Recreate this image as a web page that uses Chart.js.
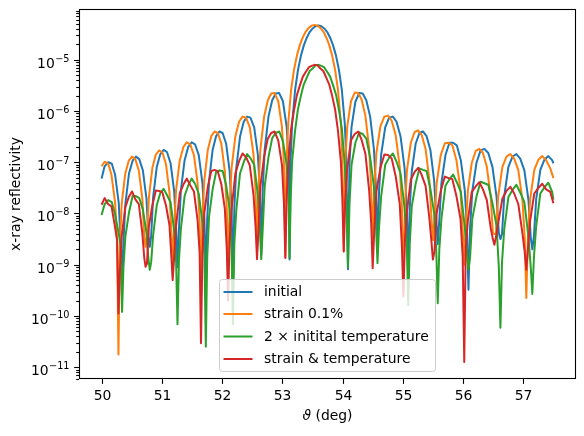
<!DOCTYPE html>
<html>
<head>
<meta charset="utf-8">
<script src="https://cdn.jsdelivr.net/npm/chart.js@4.4.0/dist/chart.umd.min.js"></script>
<style>
  html, body { margin: 0; padding: 0; background: #fff; }
</style>
</head>
<body>
<canvas id="chart" width="584" height="436"></canvas>
<script>
// angles (deg) for "initial" and "2 x temperature" (same fringe positions)
var thetaA = [
  50.00, 50.05, 50.11, 50.17, 50.225, 50.285, 50.315, 50.34,
  50.363, 50.395, 50.455, 50.515, 50.57, 50.625, 50.685, 50.745, 50.777, 50.80,
  50.823, 50.855, 50.915, 50.975, 51.03, 51.085, 51.145, 51.205, 51.237, 51.26,
  51.284, 51.316, 51.378, 51.439, 51.495, 51.551, 51.613, 51.674, 51.707, 51.73,
  51.753, 51.784, 51.843, 51.901, 51.955, 52.009, 52.068, 52.126, 52.158, 52.18,
  52.204, 52.236, 52.298, 52.359, 52.415, 52.471, 52.533, 52.594, 52.627, 52.65,
  52.674, 52.708, 52.77, 52.832, 52.89, 52.948, 53.01, 53.072, 53.106, 53.12,
  53.139, 53.163, 53.212, 53.26, 53.309, 53.357, 53.406, 53.454, 53.503, 53.551, 53.60,
  53.649, 53.697, 53.746, 53.794, 53.843, 53.891, 53.94, 53.988, 54.037, 54.061, 54.09,
  54.115, 54.149, 54.213, 54.276, 54.335, 54.394, 54.458, 54.521, 54.556, 54.58,
  54.606, 54.641, 54.708, 54.774, 54.835, 54.896, 54.963, 55.029, 55.065, 55.09,
  55.115, 55.149, 55.213, 55.276, 55.335, 55.394, 55.458, 55.521, 55.556, 55.58,
  55.606, 55.641, 55.708, 55.774, 55.835, 55.896, 55.963, 56.029, 56.065, 56.09,
  56.117, 56.154, 56.223, 56.291, 56.355, 56.419, 56.488, 56.556, 56.594, 56.62,
  56.647, 56.684, 56.753, 56.821, 56.885, 56.949, 57.018, 57.086, 57.124, 57.15,
  57.177, 57.214, 57.283, 57.351, 57.415, 57.479, 57.50
];

// angles (deg) for "strain 0.1%" and "strain & temperature"
var thetaB = [
  50.00, 50.05, 50.11, 50.165, 50.225, 50.257, 50.28,
  50.303, 50.334, 50.393, 50.451, 50.505, 50.559, 50.618, 50.676, 50.708, 50.73,
  50.753, 50.784, 50.843, 50.901, 50.955, 51.009, 51.068, 51.126, 51.158, 51.18,
  51.204, 51.236, 51.298, 51.359, 51.415, 51.471, 51.533, 51.594, 51.627, 51.65,
  51.673, 51.704, 51.763, 51.821, 51.875, 51.929, 51.988, 52.046, 52.078, 52.10,
  52.124, 52.158, 52.22, 52.282, 52.34, 52.398, 52.46, 52.522, 52.556, 52.58,
  52.604, 52.636, 52.698, 52.759, 52.815, 52.871, 52.933, 52.994, 53.027, 53.05,
  53.074, 53.098, 53.147, 53.195, 53.244, 53.292, 53.341, 53.389, 53.438, 53.486, 53.535,
  53.584, 53.632, 53.681, 53.729, 53.778, 53.826, 53.875, 53.923, 53.972, 53.996, 54.02,
  54.044, 54.078, 54.14, 54.202, 54.26, 54.318, 54.38, 54.442, 54.476, 54.50,
  54.526, 54.561, 54.628, 54.694, 54.755, 54.816, 54.883, 54.949, 54.985, 55.01,
  55.035, 55.069, 55.133, 55.196, 55.255, 55.314, 55.378, 55.441, 55.476, 55.50,
  55.526, 55.562, 55.63, 55.698, 55.76, 55.822, 55.89, 55.958, 55.994, 56.02,
  56.045, 56.08, 56.145, 56.21, 56.27, 56.33, 56.395, 56.46, 56.495, 56.52,
  56.547, 56.584, 56.653, 56.721, 56.785, 56.849, 56.918, 56.986, 57.024, 57.05,
  57.077, 57.114, 57.183, 57.251, 57.315, 57.379, 57.448, 57.50
];

// log10 of reflectivity
var logInitial = [
  -7.32, -7.08, -7.00, -7.03, -7.25, -7.80, -8.50, -9.20,
  -8.56, -7.81, -7.22, -6.97, -6.89, -6.94, -7.16, -7.71, -8.44, -8.65,
  -8.44, -7.69, -7.10, -6.84, -6.76, -6.80, -7.02, -7.57, -8.30, -9.05,
  -8.31, -7.55, -6.96, -6.70, -6.61, -6.65, -6.86, -7.41, -8.13, -9.30,
  -8.12, -7.37, -6.76, -6.49, -6.40, -6.43, -6.64, -7.18, -7.90, -9.40,
  -7.88, -7.11, -6.50, -6.21, -6.11, -6.13, -6.32, -6.85, -7.56, -8.80,
  -7.53, -6.75, -6.11, -5.79, -5.66, -5.65, -5.81, -6.31, -7.01, -8.90,
  -6.90, -6.25, -5.59, -5.20, -4.92, -4.72, -4.57, -4.46, -4.39, -4.345, -4.33,
  -4.345, -4.39, -4.46, -4.57, -4.72, -4.92, -5.20, -5.59, -6.25, -6.90, -9.09,
  -7.01, -6.31, -5.82, -5.65, -5.66, -5.79, -6.11, -6.75, -7.53, -8.60,
  -7.56, -6.85, -6.32, -6.13, -6.11, -6.21, -6.50, -7.11, -7.88, -9.00,
  -7.90, -7.18, -6.64, -6.43, -6.40, -6.49, -6.76, -7.37, -8.12, -8.60,
  -8.13, -7.41, -6.86, -6.62, -6.62, -6.67, -6.96, -7.55, -8.31, -9.49,
  -8.27, -7.56, -7.01, -6.77, -6.74, -6.82, -7.09, -7.67, -8.38, -8.50,
  -8.40, -7.66, -7.09, -6.89, -6.84, -6.93, -7.16, -7.74, -8.47, -8.70,
  -8.44, -7.72, -7.15, -6.95, -6.88, -6.96, -7.02
];

var logStrain = [
  -7.08, -6.99, -7.03, -7.25, -7.80, -8.52, -10.75,
  -8.56, -7.81, -7.22, -6.97, -6.89, -6.94, -7.16, -7.71, -8.44, -8.65,
  -8.45, -7.70, -7.11, -6.85, -6.77, -6.81, -7.03, -7.58, -8.31, -9.00,
  -8.31, -7.55, -6.96, -6.70, -6.61, -6.65, -6.86, -7.41, -8.13, -9.60,
  -8.12, -7.37, -6.76, -6.49, -6.40, -6.43, -6.64, -7.18, -7.90, -9.20,
  -7.88, -7.11, -6.50, -6.21, -6.11, -6.13, -6.32, -6.85, -7.56, -8.70,
  -7.53, -6.75, -6.11, -5.79, -5.66, -5.65, -5.81, -6.31, -7.01, -8.85,
  -6.89, -6.24, -5.58, -5.19, -4.91, -4.71, -4.56, -4.45, -4.38, -4.334, -4.32,
  -4.334, -4.38, -4.45, -4.56, -4.71, -4.91, -5.19, -5.58, -6.24, -6.89, -8.74,
  -7.00, -6.30, -5.81, -5.64, -5.65, -5.78, -6.10, -6.74, -7.52, -8.50,
  -7.54, -6.83, -6.30, -6.11, -6.09, -6.19, -6.48, -7.09, -7.86, -9.50,
  -7.88, -7.16, -6.62, -6.41, -6.38, -6.47, -6.74, -7.35, -8.10, -8.52,
  -8.13, -7.41, -6.86, -6.63, -6.62, -6.67, -6.96, -7.55, -8.31, -9.00,
  -8.27, -7.56, -7.01, -6.78, -6.74, -6.82, -7.09, -7.67, -8.38, -8.40,
  -8.40, -7.66, -7.09, -6.89, -6.84, -6.93, -7.16, -7.74, -8.47, -9.65,
  -8.44, -7.72, -7.15, -6.95, -6.88, -6.96, -7.12, -7.31
];

var logTemperature = [
  -8.03, -7.82, -7.74, -7.78, -8.02, -8.40, -8.60, -9.92,
  -9.05, -8.45, -7.98, -7.66, -7.66, -7.70, -7.92, -8.38, -8.88, -9.10,
  -8.95, -8.43, -7.84, -7.60, -7.52, -7.64, -7.78, -8.34, -8.95, -10.16,
  -8.92, -8.30, -7.66, -7.45, -7.32, -7.42, -7.62, -8.18, -8.82, -10.60,
  -8.88, -8.06, -7.53, -7.19, -7.16, -7.17, -7.45, -7.92, -8.73, -10.16,
  -8.58, -7.94, -7.22, -7.00, -6.84, -6.92, -7.05, -7.63, -8.26, -8.89,
  -8.33, -7.46, -6.90, -6.53, -6.43, -6.40, -6.59, -7.04, -7.80, -8.87,
  -7.70, -6.98, -6.38, -5.96, -5.70, -5.48, -5.35, -5.22, -5.17, -5.11, -5.10,
  -5.12, -5.15, -5.24, -5.33, -5.50, -5.68, -5.98, -6.34, -7.05, -7.64, -9.05,
  -7.82, -7.05, -6.62, -6.42, -6.45, -6.54, -6.91, -7.48, -8.28, -8.97,
  -8.26, -7.66, -7.05, -6.91, -6.83, -6.99, -7.22, -7.89, -8.55, -9.79,
  -8.60, -7.86, -7.42, -7.12, -7.15, -7.17, -7.52, -8.00, -8.75, -9.75,
  -8.70, -8.10, -7.46, -7.33, -7.24, -7.39, -7.58, -8.26, -8.80, -9.10,
  -8.85, -8.10, -7.67, -7.38, -7.41, -7.44, -7.80, -8.24, -9.05, -10.23,
  -8.95, -8.30, -7.68, -7.54, -7.44, -7.59, -7.78, -8.46, -9.05, -9.57,
  -8.85, -8.25, -7.61, -7.49, -7.40, -7.58, -7.73
];

var logStrainTemp = [
  -7.83, -7.70, -7.82, -7.86, -8.28, -8.52, -9.95,
  -9.15, -8.44, -7.88, -7.68, -7.57, -7.72, -7.82, -8.38, -8.86, -9.04,
  -8.98, -8.26, -7.84, -7.55, -7.56, -7.59, -7.84, -8.22, -8.84, -9.30,
  -8.86, -8.24, -7.61, -7.43, -7.32, -7.45, -7.57, -8.14, -8.76, -10.53,
  -8.84, -8.01, -7.48, -7.17, -7.15, -7.18, -7.43, -7.91, -8.69, -9.70,
  -8.56, -7.92, -7.22, -6.98, -6.83, -6.90, -7.06, -7.64, -8.26, -8.89,
  -8.34, -7.47, -6.89, -6.54, -6.43, -6.40, -6.58, -7.05, -7.80, -8.87,
  -7.64, -7.05, -6.34, -5.98, -5.68, -5.50, -5.33, -5.24, -5.15, -5.12, -5.10,
  -5.11, -5.17, -5.22, -5.35, -5.48, -5.70, -5.96, -6.38, -6.99, -7.70, -8.74,
  -7.74, -7.12, -6.57, -6.45, -6.40, -6.57, -6.84, -7.56, -8.21, -9.07,
  -8.34, -7.58, -7.11, -6.85, -6.86, -6.93, -7.28, -7.81, -8.64, -9.62,
  -8.55, -7.96, -7.34, -7.19, -7.11, -7.25, -7.46, -8.09, -8.56, -8.90,
  -8.74, -8.00, -7.56, -7.28, -7.31, -7.33, -7.66, -8.11, -8.84, -10.90,
  -8.66, -8.14, -7.58, -7.47, -7.39, -7.53, -7.74, -8.29, -8.50, -8.61,
  -8.46, -8.19, -7.71, -7.56, -7.48, -7.61, -7.82, -8.39, -8.76, -9.10,
  -8.70, -8.14, -7.61, -7.50, -7.42, -7.53, -7.58, -7.80
];

var seriesNames = ["initial", "strain 0.1%", "2 \u00d7 initital temperature", "strain & temperature"];
var seriesColors = ["#1f77b4", "#ff7f0e", "#2ca02c", "#d62728"];
var xTicks = [50, 51, 52, 53, 54, 55, 56, 57];
var yExponents = [-11, -10, -9, -8, -7, -6, -5];

var FONT = "13.9px 'DejaVu Sans'";
var SMALL = "9.7px 'DejaVu Sans'";
var ITAL = "italic 13.9px 'DejaVu Sans'";

function points(xs, logs) {
  var out = [];
  for (var i = 0; i < xs.length; i++) {
    out.push({ x: xs[i], y: Math.pow(10, logs[i]) });
  }
  return out;
}

function supText(e) {
  return (e < 0 ? "\u2212" : "") + Math.abs(e);
}

function tick(ctx, x1, y1, x2, y2) {
  ctx.beginPath();
  ctx.moveTo(x1, y1);
  ctx.lineTo(x2, y2);
  ctx.stroke();
}

// spines, ticks, tick labels, axis titles and the legend, matplotlib style
var frame = {
  id: "frame",
  afterDraw: function (chart) {
    var ctx = chart.ctx;
    var a = chart.chartArea;
    var xs = chart.scales.x;
    var ys = chart.scales.y;
    ctx.save();
    ctx.strokeStyle = "#000";
    ctx.fillStyle = "#000";
    ctx.lineWidth = 1.1;
    ctx.strokeRect(a.left + 0.5, a.top + 0.5, a.right - a.left - 1, a.bottom - a.top - 1);

    // x ticks
    ctx.font = FONT;
    ctx.textAlign = "center";
    ctx.textBaseline = "alphabetic";
    xTicks.forEach(function (v) {
      var px = Math.round(xs.getPixelForValue(v)) + 0.5;
      tick(ctx, px, a.bottom, px, a.bottom + 4.9);
      ctx.fillText(String(v), px, a.bottom + 21);
    });

    // y minor ticks
    for (var k = -12; k <= -4; k++) {
      for (var m = 2; m <= 9; m++) {
        var v = m * Math.pow(10, k);
        if (v < ys.min || v > ys.max) continue;
        var py = Math.round(ys.getPixelForValue(v)) + 0.5;
        tick(ctx, a.left, py, a.left - 2.8, py);
      }
    }

    // y major ticks and labels 10^e
    ctx.textAlign = "left";
    yExponents.forEach(function (e) {
      var py = Math.round(ys.getPixelForValue(Math.pow(10, e))) + 0.5;
      tick(ctx, a.left, py, a.left - 4.9, py);
      ctx.font = SMALL;
      var es = supText(e);
      var w2 = ctx.measureText(es).width;
      ctx.font = FONT;
      var w1 = ctx.measureText("10").width;
      var x0 = a.left - 10 - w1 - w2;
      ctx.fillText("10", x0, py + 7);
      ctx.font = SMALL;
      ctx.fillText(es, x0 + w1 + 0.5, py + 1);
    });

    // axis titles
    ctx.font = FONT;
    ctx.save();
    ctx.translate(20, (a.top + a.bottom) / 2);
    ctx.rotate(-Math.PI / 2);
    ctx.textAlign = "center";
    ctx.textBaseline = "alphabetic";
    ctx.fillText("x-ray reflectivity", 0, 0);
    ctx.restore();

    ctx.font = ITAL;
    var wa = ctx.measureText("\u03d1").width;
    ctx.font = FONT;
    var wb = ctx.measureText(" (deg)").width;
    var tx = (a.left + a.right) / 2 - (wa + wb) / 2;
    ctx.font = ITAL;
    ctx.fillText("\u03d1", tx, 420);
    ctx.font = FONT;
    ctx.fillText(" (deg)", tx + wa, 420);

    // legend box
    var bx = 219.5, by = 279.5, bw = 216, bh = 92, r = 3;
    ctx.beginPath();
    ctx.moveTo(bx + r, by);
    ctx.lineTo(bx + bw - r, by);
    ctx.quadraticCurveTo(bx + bw, by, bx + bw, by + r);
    ctx.lineTo(bx + bw, by + bh - r);
    ctx.quadraticCurveTo(bx + bw, by + bh, bx + bw - r, by + bh);
    ctx.lineTo(bx + r, by + bh);
    ctx.quadraticCurveTo(bx, by + bh, bx, by + bh - r);
    ctx.lineTo(bx, by + r);
    ctx.quadraticCurveTo(bx, by, bx + r, by);
    ctx.closePath();
    ctx.fillStyle = "rgba(255,255,255,0.8)";
    ctx.fill();
    ctx.strokeStyle = "#cccccc";
    ctx.lineWidth = 1;
    ctx.stroke();

    var rows = [292, 314, 336.5, 359];
    chart.data.datasets.forEach(function (ds, i) {
      ctx.strokeStyle = ds.borderColor;
      ctx.lineWidth = 2;
      tick(ctx, 223.5, rows[i], 252.5, rows[i]);
      ctx.fillStyle = "#000";
      ctx.font = FONT;
      ctx.textBaseline = "middle";
      ctx.fillText(ds.label, 264, rows[i] + 0.5);
    });
    ctx.restore();
  }
};

var datasets = [
  points(thetaA, logInitial),
  points(thetaB, logStrain),
  points(thetaA, logTemperature),
  points(thetaB, logStrainTemp)
].map(function (d, i) {
  return {
    label: seriesNames[i],
    data: d,
    borderColor: seriesColors[i],
    backgroundColor: seriesColors[i],
    borderWidth: 2,
    borderJoinStyle: "round",
    pointRadius: 0,
    tension: 0,
    fill: false,
    order: 4 - i
  };
});

new Chart(document.getElementById("chart").getContext("2d"), {
  type: "line",
  data: { datasets: datasets },
  options: {
    responsive: false,
    animation: false,
    devicePixelRatio: 1,
    layout: { padding: { left: 0, top: 9, right: 8, bottom: 0 } },
    plugins: { legend: { display: false }, tooltip: { enabled: false } },
    scales: {
      x: {
        type: "linear",
        min: 49.625,
        max: 57.875,
        ticks: { display: false },
        grid: { display: false },
        border: { display: false },
        afterFit: function (s) { s.height = 57; }
      },
      y: {
        type: "logarithmic",
        min: Math.pow(10, -11.23),
        max: Math.pow(10, -4.01),
        ticks: { display: false },
        grid: { display: false },
        border: { display: false },
        afterFit: function (s) { s.width = 79; }
      }
    }
  },
  plugins: [frame]
});
</script>
</body>
</html>
